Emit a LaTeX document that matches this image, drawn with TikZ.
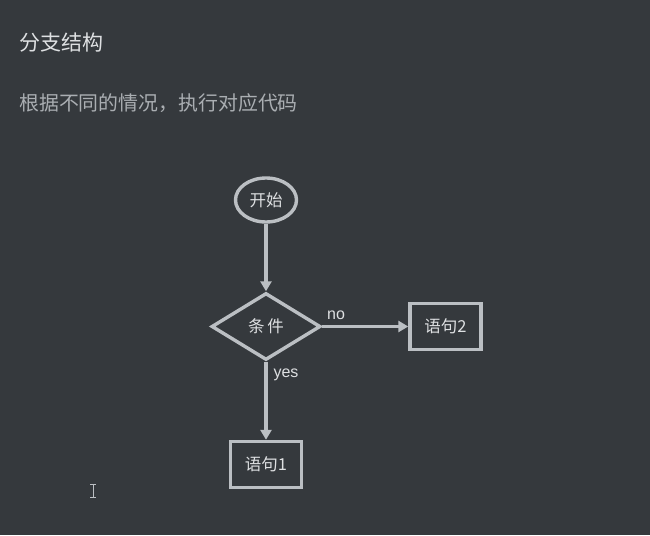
\documentclass[tikz,border=0pt]{standalone}
\usepackage{fontspec}
\setmainfont{Noto Sans CJK SC}
\newfontfamily\labelfont{Liberation Sans}
\usetikzlibrary{shapes.geometric,arrows.meta}
\definecolor{bgdark}{RGB}{53,57,61}
\definecolor{linegrey}{RGB}{187,191,195}
\definecolor{titlegrey}{RGB}{222,224,226}
\definecolor{textgrey}{RGB}{170,174,178}
\tikzset{
  flowline/.style={draw=linegrey, line width=3.4pt},
  startnode/.style={flowline, ellipse, minimum width=61pt, minimum height=44pt, inner sep=0pt},
  testnode/.style={flowline, diamond, aspect=1.6, minimum width=109pt, minimum height=67pt, inner sep=0pt},
  stmtnode/.style={flowline, rectangle, minimum width=71pt, minimum height=46pt, inner sep=0pt},
  flowtext/.style={text=titlegrey, font=\fontsize{16.5pt}{19pt}\selectfont},
  edgelabel/.style={text=titlegrey, font=\labelfont\fontsize{16pt}{19pt}\selectfont, inner sep=0pt}
}
\begin{document}
\begin{tikzpicture}[x=1pt, y=-1pt, >={Triangle[length=10pt,width=11pt]}]
\fill[bgdark] (0,0) rectangle (650,535);
\useasboundingbox (0,0) rectangle (650,535);
% heading
\node[anchor=west, inner sep=0pt, text=titlegrey, font=\fontsize{21pt}{25pt}\selectfont] (title) at (19,43) {分支结构};
\node[anchor=west, inner sep=0pt, text=textgrey, font=\fontsize{19.9pt}{23pt}\selectfont] (intro) at (19,103) {根据不同的情况，执行对应代码};
% flow chart
\node[startnode, flowtext] (start) at (266,200) {开始};
\node[testnode, flowtext] (cond) at (266,326.5) {条\hspace{3pt}件};
\node[stmtnode, flowtext] (stmtb) at (445.5,326.5) {语句2};
\node[stmtnode, flowtext] (stmta) at (266,464.5) {语句1};
\draw[flowline, ->] (start) -- (cond);
\draw[flowline, ->] (cond.east) -- (stmtb.west);
\draw[flowline, ->] (cond.south) -- (stmta.north);
\node[edgelabel] (nolabel) at (336,315) {no};
\node[edgelabel] (yeslabel) at (286,375) {yes};
% text cursor
\draw[linegrey, line width=1pt] (93,484) -- (93,497) (90,484) -- (96,484) (90,497) -- (96,497);
\end{tikzpicture}
\end{document}
